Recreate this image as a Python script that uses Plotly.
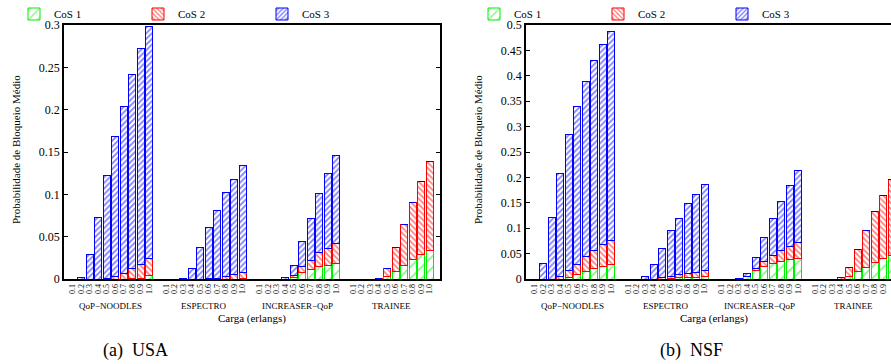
import plotly.graph_objects as go

groups = ["QoP\u2212NOODLES", "ESPECTRO", "INCREASER\u2212QoP", "TRAINEE"]
loads = ["0.1", "0.2", "0.3", "0.4", "0.5", "0.6", "0.7", "0.8", "0.9", "1.0"]

# USA — stacked segments, 4 groups x 10 loads
usa_cos1 = [0, 0, 0, 0, 0, 0, 0, 0.0005, 0.001, 0.004,
            0, 0, 0, 0, 0, 0, 0, 0, 0, 0.0005,
            0, 0, 0, 0, 0.002, 0.0075, 0.0115, 0.0142, 0.0162, 0.0186,
            0, 0, 0, 0, 0.0024, 0.009, 0.016, 0.023, 0.0285, 0.0332]
usa_cos2 = [0, 0, 0, 0, 0.0005, 0.003, 0.006, 0.0118, 0.016, 0.0197,
            0, 0, 0, 0, 0, 0.0005, 0.001, 0.0028, 0.005, 0.0066,
            0, 0, 0, 0, 0.0023, 0.0071, 0.0102, 0.017, 0.0194, 0.0229,
            0, 0, 0, 0.001, 0.0099, 0.0282, 0.0484, 0.0675, 0.0869, 0.1058]
usa_cos3 = [0, 0.002, 0.029, 0.073, 0.1215, 0.165, 0.198, 0.2292, 0.255, 0.2748,
            0, 0, 0.0008, 0.0126, 0.0375, 0.0608, 0.0804, 0.0988, 0.113, 0.1269,
            0, 0, 0, 0.002, 0.0115, 0.0301, 0.0498, 0.07, 0.0894, 0.1048,
            0, 0, 0, 0, 0, 0, 0, 0, 0, 0]

# NSF
nsf_cos1 = [0, 0, 0, 0, 0.002, 0.0092, 0.015, 0.0204, 0.025, 0.0283,
            0, 0, 0, 0, 0, 0.001, 0.002, 0.002, 0.002, 0.004,
            0, 0, 0, 0.005, 0.0158, 0.0243, 0.0296, 0.0342, 0.0375, 0.0394,
            0, 0, 0, 0, 0.0046, 0.015, 0.0223, 0.0316, 0.0394, 0.046]
nsf_cos2 = [0, 0, 0, 0.0046, 0.0145, 0.0198, 0.0284, 0.0354, 0.0427, 0.0473,
            0, 0, 0, 0, 0.0026, 0.004, 0.0065, 0.0098, 0.0105, 0.0124,
            0, 0, 0, 0.0005, 0.0039, 0.0099, 0.0171, 0.021, 0.0263, 0.0323,
            0, 0, 0, 0.003, 0.0184, 0.0435, 0.0737, 0.1019, 0.1256, 0.1506]
nsf_cos3 = [0, 0.031, 0.1216, 0.2039, 0.2675, 0.31, 0.3456, 0.3742, 0.3943, 0.4114,
            0, 0, 0.004, 0.0276, 0.0579, 0.0897, 0.1112, 0.1362, 0.1532, 0.169,
            0, 0, 0.001, 0.0063, 0.0217, 0.0467, 0.0723, 0.0967, 0.121, 0.1427,
            0, 0, 0, 0, 0, 0, 0, 0, 0, 0]

class_names = ["CoS 1", "CoS 2", "CoS 3"]
colors = ["#00ee00", "#ff0000", "#0000ff"]
patterns = [dict(shape="/", size=8, solidity=0.2),
            dict(shape="\\", size=4, solidity=0.45),
            dict(shape="/", size=4, solidity=0.45)]

W, H = 891, 364
FONT = "Liberation Serif"

# bar slot positions: 10 bars per group + one empty slot between groups
xpos = [g * 11 + i + 1 for g in range(len(groups)) for i in range(len(loads))]
ticktext = loads * len(groups)
group_centers = [sum(xpos[g * 10:(g + 1) * 10]) / 10 for g in range(len(groups))]

fig = go.Figure()

panels = [
    ("x", "y", "legend", [usa_cos1, usa_cos2, usa_cos3]),
    ("x2", "y2", "legend2", [nsf_cos1, nsf_cos2, nsf_cos3]),
]
for xa, ya, lg, series in panels:
    for k, vals in enumerate(series):
        fig.add_trace(go.Bar(
            x=xpos, y=vals, name=class_names[k], xaxis=xa, yaxis=ya, legend=lg,
            marker=dict(color="white", line=dict(color=colors[k], width=1),
                        pattern=dict(fgcolor=colors[k], bgcolor="white", **patterns[k])),
            hoverinfo="skip",
        ))

# geometry in pixels
L1, R1 = 64, 440
L2 = 526
TOP, BOT = 25, 279
slot = (R1 - L1) / 44.2
ydom = [(H - BOT) / H, (H - TOP) / H]

xcommon = dict(tickvals=xpos, ticktext=ticktext, tickangle=-90, ticks="",
               tickfont=dict(family=FONT, size=8, color="black"),
               showline=True, linecolor="black", linewidth=1.5, showgrid=False,
               zeroline=False, fixedrange=True, automargin=False)
ycommon = dict(ticks="inside", ticklen=4, tickcolor="black", dtick=0.05,
               tickfont=dict(family=FONT, size=12, color="black"),
               showline=True, linecolor="black", linewidth=1.5, showgrid=False,
               zeroline=False, automargin=False)

legcommon = dict(orientation="h", xanchor="left", yanchor="middle", y=1 - 14 / H,
                 traceorder="normal", entrywidth=79, entrywidthmode="pixels",
                 font=dict(family=FONT, size=11), bgcolor="rgba(0,0,0,0)",
                 itemclick=False, itemdoubleclick=False, tracegroupgap=0)

fig.update_layout(
    width=W, height=H, autosize=False,
    margin=dict(l=0, r=0, t=0, b=0, autoexpand=False),
    paper_bgcolor="white", plot_bgcolor="white",
    barmode="stack", bargap=0.18,
    font=dict(family=FONT, color="black"),
    xaxis=dict(domain=[L1 / W, R1 / W], range=[0, 44.2], anchor="y", mirror=True, **xcommon),
    yaxis=dict(domain=ydom, range=[0, 0.3], anchor="x", mirror="ticks", **ycommon),
    xaxis2=dict(domain=[L2 / W, 1], range=[0, (W - L2) / slot], anchor="y2", mirror=True, **xcommon),
    yaxis2=dict(domain=ydom, range=[0, 0.5], anchor="x2", mirror=False, **ycommon),
    legend=dict(x=14 / W, **legcommon),
    legend2=dict(x=474 / W, **legcommon),
    showlegend=True,
)

annotations = []
for xa, left in (("x", L1), ("x2", L2)):
    for g, name in enumerate(groups):
        annotations.append(dict(x=group_centers[g], y=1 - 306 / H, xref=xa, yref="paper",
                                text=name, showarrow=False, xanchor="center", yanchor="middle",
                                font=dict(family=FONT, size=9)))
    annotations.append(dict(x=22.1, y=1 - 318 / H, xref=xa, yref="paper",
                            text="Carga (erlangs)", showarrow=False, xanchor="center",
                            yanchor="middle", font=dict(family=FONT, size=11)))
    annotations.append(dict(x=(left - 48) / W, y=1 - 150 / H, xref="paper", yref="paper",
                            text="Probabilidade de Bloqueio Médio", textangle=-90,
                            showarrow=False, xanchor="center", yanchor="middle",
                            font=dict(family=FONT, size=11)))

annotations.append(dict(x=135 / W, y=1 - 350 / H, xref="paper", yref="paper",
                        text="(a)  USA", showarrow=False, xanchor="center", yanchor="middle",
                        font=dict(family=FONT, size=18)))
annotations.append(dict(x=691 / W, y=1 - 350 / H, xref="paper", yref="paper",
                        text="(b)  NSF", showarrow=False, xanchor="center", yanchor="middle",
                        font=dict(family=FONT, size=18)))
fig.update_layout(annotations=annotations)

fig.write_html("out.html", include_plotlyjs=True, config={"displayModeBar": False},
               post_script="document.body.style.margin='0';document.body.style.overflow='hidden';")
